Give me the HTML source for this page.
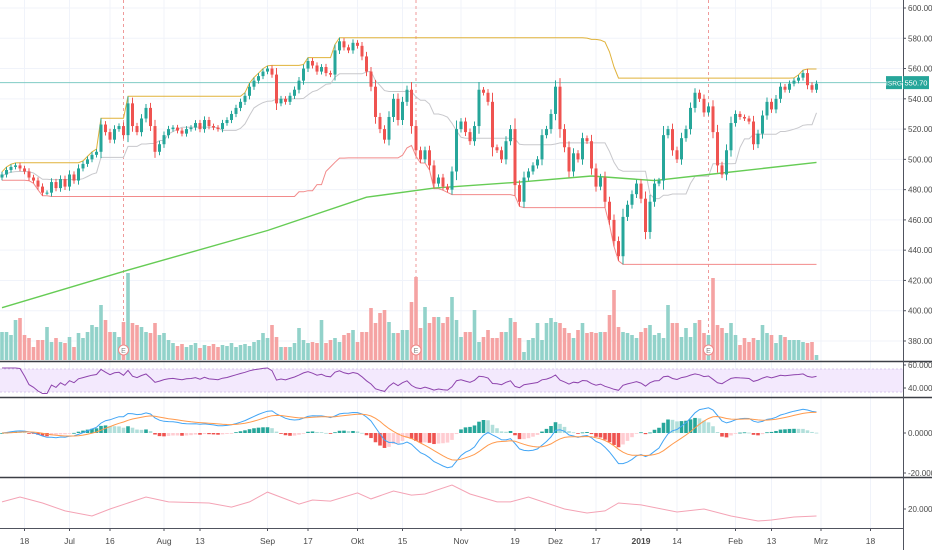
<!DOCTYPE html>
<html><head><meta charset="utf-8"><style>
html,body{margin:0;padding:0;background:#fff;}
svg{display:block;font-family:"Liberation Sans",sans-serif;}
</style></head><body>
<svg id="chart" width="932" height="550" viewBox="0 0 932 550" xmlns="http://www.w3.org/2000/svg">
<rect width="932" height="550" fill="#fff"/>
<g id="grid"></g>
<g id="main"></g>
<g id="vol"></g>
<g id="rsi"></g>
<g id="macd"></g>
<g id="low"></g>
<g id="axes"></g>
</svg>
<script>
const closes = [490,493,495,496,494,492,488,486,482,478,
478,485,481,487,482,490,486,494,497,500,
503,505,523,518,513,520,522,516,537,522,
518,527,534,522,505,510,516,520,521,519,
517,520,521,524,520,526,522,521,520,524,
526,530,534,538,542,548,552,555,558,560,
556,537,540,538,542,546,552,560,565,562,
558,561,557,556,572,578,574,572,577,575,
568,558,548,528,520,513,528,540,526,538,
546,522,506,500,506,496,484,488,482,480,
492,520,525,518,512,522,546,544,538,508,
506,500,512,520,483,472,488,492,496,500,
516,520,530,548,520,508,492,504,500,514,
512,494,482,488,472,460,446,436,462,470,
477,484,474,452,472,484,486,516,520,506,
500,514,520,534,544,540,531,535,518,496,
490,506,524,530,528,527,525,510,517,529,
538,533,540,548,546,550,552,554,557,549,
546,550];
const volumes = [28,28,25,40,42,25,22,13,20,20,
33,18,22,18,17,23,13,27,22,28,
35,33,55,40,28,28,23,38,87,37,
35,33,28,27,37,25,27,20,17,14,
16,13,15,17,12,15,14,16,13,15,
14,17,13,15,16,14,18,20,27,22,
35,23,13,13,13,17,32,20,17,18,
17,40,17,20,22,18,25,27,30,18,
28,28,52,37,47,50,38,27,27,30,
30,58,83,32,53,37,43,43,37,43,
63,40,23,28,28,50,18,23,30,22,
22,28,28,42,38,22,8,20,22,37,
20,37,42,38,37,32,27,22,30,37,
27,28,27,28,28,45,70,33,28,27,
25,22,28,32,35,25,27,22,55,37,
37,23,32,23,37,40,27,25,82,35,
32,27,37,25,15,22,18,22,20,35,
27,25,17,25,23,20,20,20,18,17,
18,5];
const ma200Idx = [0,27,59,81,96,115,131,145,157,181];
const ma200Val = [402,426,453,475,481,485,489,486,490,498];
const lowIdx = [0,4,9,14,20,24,32,37,46,51,55,59,66,69,73,79,82,87,91,94,100,104,110,113,117,125,130,134,137,142,150,156,162,168,171,176,181];
const lowVal = [24.7,28,24,18.7,15.3,20,28,24.7,24,21.3,24.7,31.3,23.3,26,25.3,30.7,26.7,32,29.3,30,36,30,24.7,24.7,28,20,17.3,18.7,24,22.7,18,20,15.3,12,12.7,14.7,15.3];
const priceTicks = [600,580,560,540,520,500,480,460,440,420,400,380];
const timeLabels = ["18","Jul","16","Aug","13","Sep","17","Okt","15","Nov","19","Dez","17","2019","14","Feb","13","Mrz","18"];
const timeIdx = [5,15,24,36,44,59,68,79,89,102,114,123,132,142,150,163,171,182,193];
const earningsIdx = [27,92,157];
const lastPrice = 550.70;
const ticker = "ISRG";

const NS="http://www.w3.org/2000/svg";
function mk(tag,attrs,parent){const e=document.createElementNS(NS,tag);for(const k in attrs)e.setAttribute(k,attrs[k]);parent.appendChild(e);return e;}
const X = i => 2 + 4.5*i;
const PY = p => 8 + (600-p)*1.5136;
const VY = v => 360 - v;
const RY = v => 381 - (v-50)*0.5;
const MY = v => 433 - v*2;
const LY = v => 509 - (v-20)*1.5;
const PLOT_R = 903;

const grid=document.getElementById('grid');
priceTicks.forEach(p=>{const l=mk('line',{x1:0,x2:PLOT_R,y1:PY(p),y2:PY(p),stroke:'#f0f3fa','stroke-width':1},grid);

});
timeIdx.forEach(i=>{const x=X(i);if(x>PLOT_R)return;const l=mk('line',{x1:x,x2:x,y1:0,y2:528,stroke:'#f0f3fa','stroke-width':1},grid);

});

const opens = closes.map((c,i)=> i===0 ? c-2 : closes[i-1]);
const highs = closes.map((c,i)=> Math.max(c,opens[i]) + 1.5 + Math.abs(c-opens[i])*0.15);
const lows = closes.map((c,i)=> Math.min(c,opens[i]) - 1.5 - Math.abs(c-opens[i])*0.15);
function rollMax(a,n){return a.map((v,i)=>Math.max(...a.slice(Math.max(0,i-n+1),i+1)));}
function rollMin(a,n){return a.map((v,i)=>Math.min(...a.slice(Math.max(0,i-n+1),i+1)));}
const up55=rollMax(highs,55), dn55=rollMin(lows,55);
const mid20=rollMax(highs,20).map((v,i)=>(v+rollMin(lows,20)[i])/2);

const main=document.getElementById('main');
earningsIdx.forEach(i=>{const l=mk('line',{x1:X(i),x2:X(i),y1:0,y2:345,stroke:'#ef9a9a','stroke-width':1,'stroke-dasharray':'3,3'},main);

});
const pl=mk('line',{x1:0,x2:PLOT_R,y1:PY(lastPrice),y2:PY(lastPrice),stroke:'#80cbc4','stroke-width':1},main);


function poly(arr,idxFn,yFn,color,w,name,parent){const pts=arr.map((v,k)=>X(idxFn(k)).toFixed(1)+','+yFn(v).toFixed(1)).join(' ');
const p=mk('polyline',{points:pts,fill:'none',stroke:color,'stroke-width':w},parent);

return p;}
function stepPoly(arr,color,name){let d='';arr.forEach((v,i)=>{const x=X(i),y=PY(v);d+=(i===0?'M':'L')+x.toFixed(1)+','+y.toFixed(1);});
const p=mk('path',{d:d,fill:'none',stroke:color,'stroke-width':1},main);

}
stepPoly(up55,'#e0b23a','channel-upper');
stepPoly(dn55,'#f28b8b','channel-lower');
stepPoly(mid20,'#c8c8cc','channel-middle');
poly(ma200Val,k=>ma200Idx[k],PY,'#66cc55',1.4,'ma200-line',main);
closes.forEach((c,i)=>{const o=opens[i];const col=c>=o?'#26a69a':'#ef5350';const x=X(i);
const w=mk('line',{x1:x,x2:x,y1:PY(highs[i]),y2:PY(lows[i]),stroke:col,'stroke-width':1},main);


const top=PY(Math.max(c,o)),h=Math.max(1,Math.abs(PY(c)-PY(o)));
const r=mk('rect',{x:x-1.5,y:top,width:3,height:h,fill:col},main);

});

const vol=document.getElementById('vol');
volumes.forEach((v,i)=>{const col=closes[i]>=opens[i]?'#92d2ca':'#f5a3a3';
const r=mk('rect',{x:X(i)-1.8,y:VY(v),width:3.6,height:v,fill:col},vol);

});
earningsIdx.forEach(i=>{const g=mk('g',{},vol);


mk('circle',{cx:X(i),cy:350,r:5,fill:'#fff',stroke:'#ef8a8a','stroke-width':1},g);
const t=mk('text',{x:X(i),y:353,'font-size':7,'text-anchor':'middle',fill:'#888'},g);t.textContent='E';});

const rsiG=document.getElementById('rsi');
const band=mk('rect',{x:0,y:369,width:PLOT_R,height:23,fill:'#f3e9fd'},rsiG);


[369,392].forEach(y=>{const l=mk('line',{x1:0,x2:PLOT_R,y1:y,y2:y,stroke:'#d9c8ee','stroke-width':1,'stroke-dasharray':'2,2'},rsiG);

});
const rsiVals=[];{let ag=0,al=0;for(let i=1;i<closes.length;i++){const d=closes[i]-closes[i-1];const g=Math.max(d,0),l=Math.max(-d,0);
if(i<=14){ag+=g/14;al+=l/14;}else{ag=(ag*13+g)/14;al=(al*13+l)/14;}
rsiVals[i]=al===0?100:100-100/(1+ag/al);}rsiVals[0]=rsiVals[1];}
const rsiClamp=rsiVals.map(v=>Math.min(76,Math.max(24,v)));
poly(rsiClamp,k=>k,RY,'#8e44ad',1,'rsi-line',rsiG);

const macdG=document.getElementById('macd');
function ema(a,n){const k=2/(n+1);const out=[];a.forEach((v,i)=>out.push(i===0?v:v*k+out[i-1]*(1-k)));return out;}
const e12=ema(closes,12),e26=ema(closes,26);const macdLine=e12.map((v,i)=>v-e26[i]);const sig=ema(macdLine,9);const hist=macdLine.map((v,i)=>v-sig[i]);
hist.forEach((h,i)=>{const prev=i?hist[i-1]:0;let col;if(h>=0)col=h>=prev?'#26a69a':'#b2dfdb';else col=h<prev?'#ef5350':'#ffcdd2';
const y0=MY(0),y1=MY(h);const r=mk('rect',{x:X(i)-1.8,y:Math.min(y0,y1),width:3.6,height:Math.max(0.8,Math.abs(y1-y0)),fill:col},macdG);

});
poly(macdLine,k=>k,MY,'#42a5f5',1,'macd-line',macdG);
poly(sig,k=>k,MY,'#ff9a4d',1,'signal-line',macdG);

const lowG=document.getElementById('low');
poly(lowVal,k=>lowIdx[k],LY,'#f4a3b5',1,'lower-indicator-line',lowG);

const ax=document.getElementById('axes');
function line(x1,y1,x2,y2,c,w,name){const l=mk('line',{x1,y1,x2,y2,stroke:c,'stroke-width':w},ax);

}
line(0,361.5,932,361.5,'#3c3f46',1.5,'pane-separator');
line(0,397.5,932,397.5,'#3c3f46',1.5,'pane-separator');
line(0,477.5,932,477.5,'#3c3f46',1.5,'pane-separator');
line(0,528.5,903,528.5,'#50535e',1,'time-axis-line');
line(903.5,0,903.5,550,'#50535e',1,'price-axis-line');
function lab(txt,y,name){line(903,y,906,y,'#50535e',1,'tick');
const t=mk('text',{x:908,y:y+3,'font-size':8,fill:'#4a4a4a'},ax);t.textContent=txt;

}
priceTicks.forEach(p=>lab(p.toFixed(2),PY(p),'price-tick-label'));
lab('60.0000',365,'rsi-tick-label');lab('40.0000',388,'rsi-tick-label');
lab('0.0000',433,'macd-tick-label');lab('-20.0000',473,'macd-tick-label');
lab('20.0000',509,'lower-tick-label');
timeLabels.forEach((s,k)=>{const x=X(timeIdx[k]);if(x>895)return;line(x,528,x,531,'#50535e',1,'time-tick');
const t=mk('text',{x:x,y:544,'font-size':8.5,'text-anchor':'middle',fill:'#4a4a4a','font-weight':s==='2019'?'bold':'normal'},ax);t.textContent=s;

});
const yL=PY(lastPrice);
const tb=mk('rect',{x:886,y:yL-6.5,width:16,height:13,fill:'#26a69a'},ax);


const tt=mk('text',{x:894,y:yL+3,'font-size':6.5,'text-anchor':'middle',fill:'#fff'},ax);tt.textContent=ticker;


const pb=mk('rect',{x:903,y:yL-6.5,width:26,height:13,fill:'#26a69a'},ax);


const pt=mk('text',{x:916,y:yL+3,'font-size':7.5,'text-anchor':'middle',fill:'#fff'},ax);pt.textContent=lastPrice.toFixed(2);


</script>
</body></html>
